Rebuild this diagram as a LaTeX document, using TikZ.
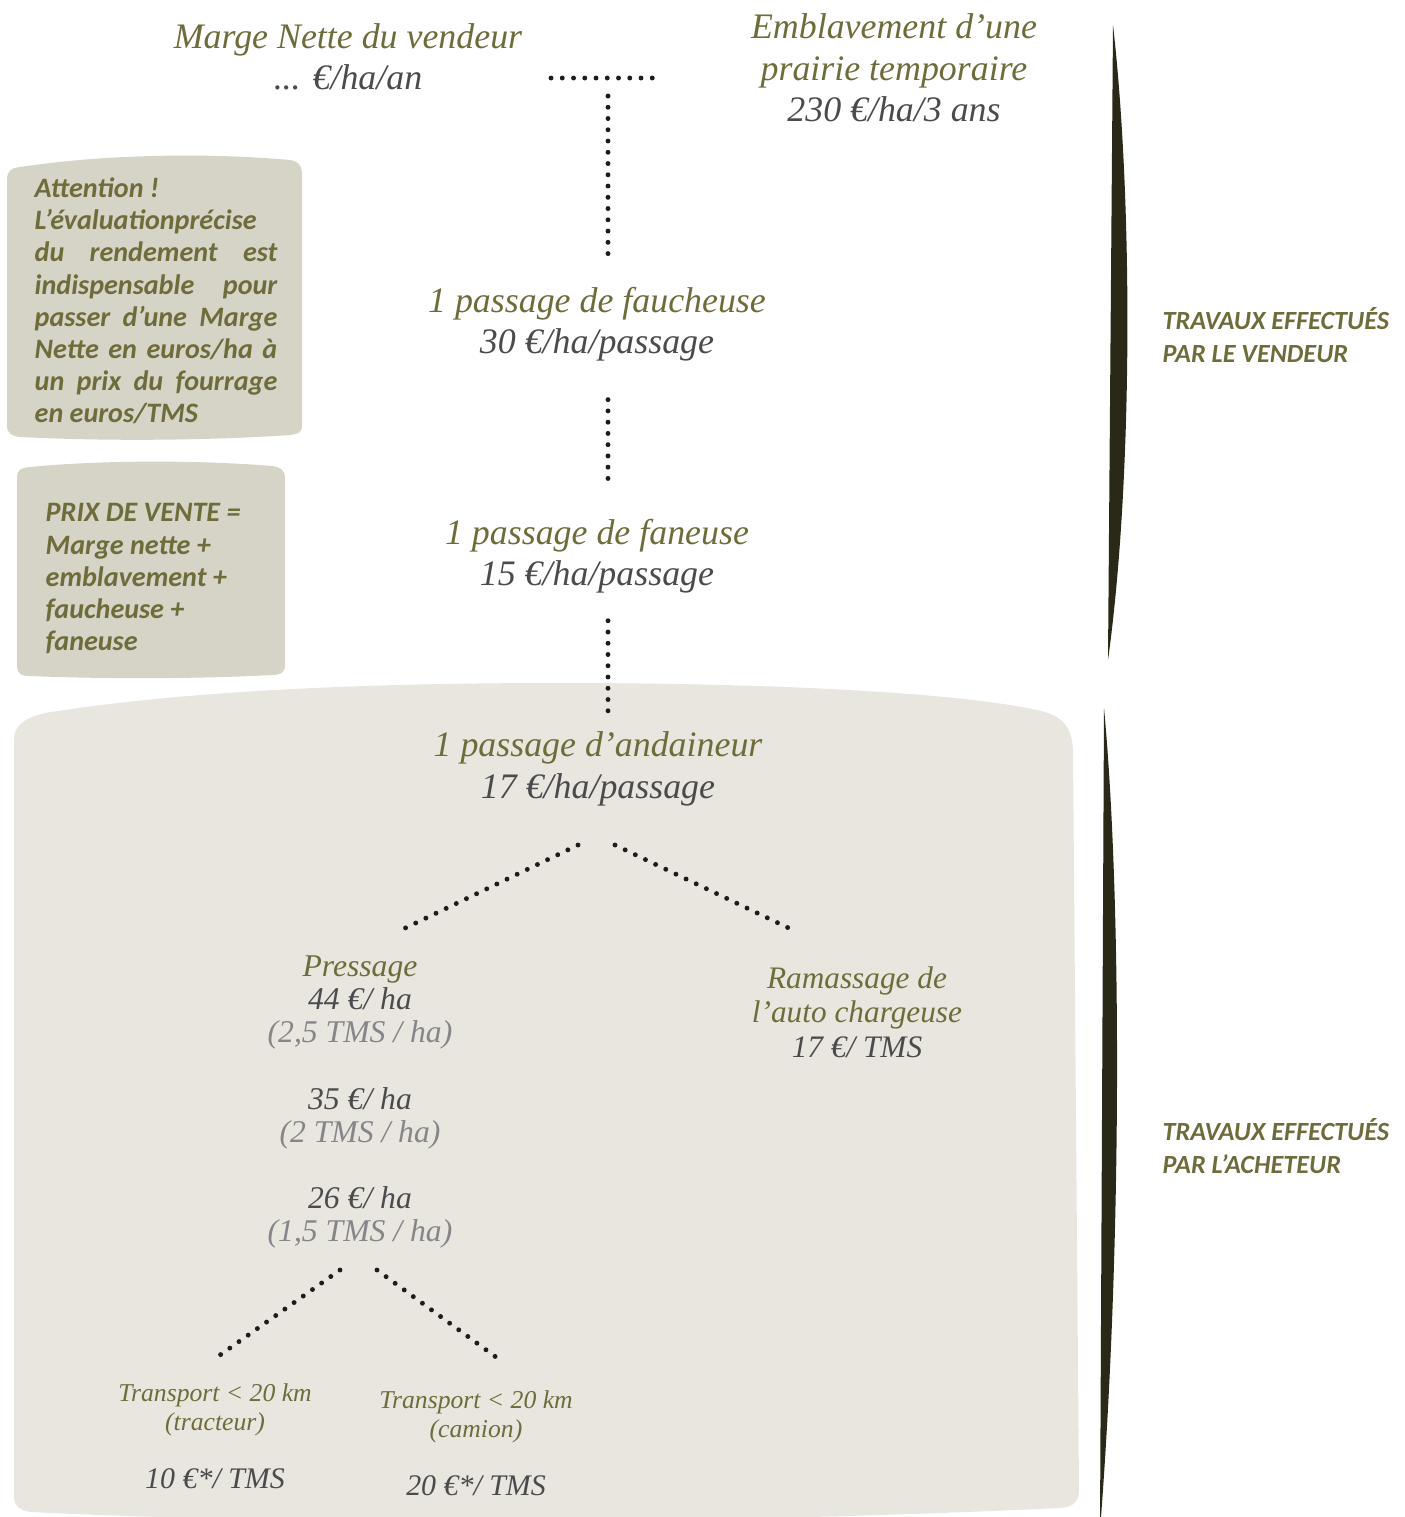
\documentclass[tikz,border=0pt]{standalone}
\usepackage{fontspec}
\setmainfont{Liberation Serif}
\newfontfamily\notefont{Carlito}
\usepackage{tikz}
\usepackage{xcolor}
\definecolor{olivetext}{HTML}{6E6C3A}
\definecolor{pricegray}{HTML}{4B4B4E}
\definecolor{tmsgray}{HTML}{85858A}
\definecolor{notefill}{HTML}{D5D4C7}
\definecolor{zonefill}{HTML}{E8E6DE}
\definecolor{bracketcol}{HTML}{2A2817}
\definecolor{dotcol}{HTML}{1C1C1C}

\begin{document}
\begin{tikzpicture}[x=0.01cm, y=-0.01cm,
    title/.style={align=center, text=olivetext, font=\fontsize{10.2}{11.8}\selectfont\itshape},
    small/.style={align=center, text=olivetext, font=\fontsize{9}{9.4}\selectfont\itshape},
    tiny/.style={align=center, text=olivetext, font=\fontsize{7.3}{8.2}\selectfont\itshape},
    note/.style={inner sep=0pt, anchor=north west, text=olivetext, font=\notefont\bfseries\itshape\fontsize{8}{9.16}\selectfont},
    side/.style={inner sep=0pt, anchor=west, align=left, text=olivetext, font=\notefont\bfseries\itshape\fontsize{7.45}{9.4}\selectfont},
    dots/.style={dotcol, line width=1.4pt, line cap=round, dash pattern=on 0pt off 3.2pt}
]
    \useasboundingbox (0,0) rectangle (1405,1517);

    % zone of the buyer
    \fill[zonefill] (14,740) .. controls (14,725) and (25,718) .. (45,713) .. controls (200,688) and (400,683) .. (560,683)
        .. controls (800,683) and (980,695) .. (1045,712) .. controls (1065,718) and (1072,730) .. (1073,750)
        -- (1079,1490) .. controls (1079,1503) and (1072,1507) .. (1060,1508)
        .. controls (700,1525) and (300,1525) .. (30,1512) .. controls (18,1510) and (14,1505) .. (14,1495) -- cycle;

    % side notes
    \fill[notefill] (7,180) .. controls (7,170) and (12,168) .. (20,167) .. controls (100,155) and (200,152) .. (290,160)
        .. controls (298,161) and (302,165) .. (302,175) -- (302,425) .. controls (302,433) and (298,434) .. (290,435)
        .. controls (200,441) and (100,441) .. (20,437) .. controls (12,436) and (7,434) .. (7,425) -- cycle;
    \fill[notefill] (17,478) .. controls (17,470) and (20,468) .. (30,467) .. controls (100,460) and (200,460) .. (272,466)
        .. controls (280,467) and (285,470) .. (285,478) -- (285,665) .. controls (285,673) and (280,675) .. (272,675)
        .. controls (200,679) and (100,679) .. (30,676) .. controls (20,676) and (17,673) .. (17,665) -- cycle;

    \node[note, text width=69pt, align=justify] (attention) at (34,177)
        {Attention !\\ L’évaluationprécise\\ du rendement est\linebreak indispensable pour\linebreak
         passer d’une Marge\linebreak Nette en euros/ha à\linebreak un prix du fourrage\linebreak en euros/TMS};
    \node[note, align=left] (prixvente) at (45,503)
        {PRIX DE VENTE =\\Marge nette +\\emblavement +\\faucheuse +\\faneuse};

    % brackets
    \fill[bracketcol] (1113,25) .. controls (1133,200) and (1133,480) .. (1108,660) -- cycle;
    \fill[bracketcol] (1104,708) .. controls (1122,900) and (1122,1250) .. (1100,1530) -- cycle;
    \node[side] (vendeur) at (1162,335) {TRAVAUX EFFECTUÉS\\PAR LE VENDEUR};
    \node[side] (acheteur) at (1162,1146) {TRAVAUX EFFECTUÉS\\PAR L’ACHETEUR};

    % seller's work
    \node[title] (marge) at (348,57) {Marge Nette du vendeur\\\textcolor{pricegray}{... €/ha/an}};
    \node[title] (embl) at (894,68) {Emblavement d’une\\prairie temporaire\\\textcolor{pricegray}{230 €/ha/3 ans}};
    \node[title] (fauch) at (597,324) {1 passage de faucheuse\\\textcolor{pricegray}{30 €/ha/passage}};
    \node[title] (fan) at (597,556) {1 passage de faneuse\\\textcolor{pricegray}{15 €/ha/passage}};
    \node[title] (andain) at (598,769) {1 passage d’andaineur\\\textcolor{pricegray}{17 €/ha/passage}};

    % buyer's work
    \node[small] (press) at (360,1102) {Pressage\\\textcolor{pricegray}{44 €/ ha}\\\textcolor{tmsgray}{(2,5 TMS / ha)}\\[9.4pt]
        \textcolor{pricegray}{35 €/ ha}\\\textcolor{tmsgray}{(2 TMS / ha)}\\[9.4pt]
        \textcolor{pricegray}{26 €/ ha}\\\textcolor{tmsgray}{(1,5 TMS / ha)}};
    \node[small, font=\fontsize{8.9}{9.8}\selectfont\itshape] (ramas) at (857,1012)
        {Ramassage de\\l’auto chargeuse\\\textcolor{pricegray}{17 €/ TMS}};
    \node[tiny] (tracteur) at (215,1436) {Transport < 20 km\\(tracteur)\\[8.2pt]{\fontsize{8.5}{8.5}\selectfont\color{pricegray}10 €*/ TMS}};
    \node[tiny] (camion) at (476,1443) {Transport < 20 km\\(camion)\\[8.2pt]{\fontsize{8.5}{8.5}\selectfont\color{pricegray}20 €*/ TMS}};

    % dotted links
    \coordinate (hl) at (551,78);
    \coordinate (hr) at (655,78);
    \coordinate (vtop) at (608,96);
    \coordinate (andL) at (578,845);
    \coordinate (andR) at (615,845);
    \coordinate (pressT) at (397,932);
    \coordinate (ramasT) at (797,932);
    \coordinate (pressL) at (340,1270);
    \coordinate (pressR) at (377,1270);
    \coordinate (tracT) at (213,1360);
    \coordinate (camT) at (500,1360);
    \draw[dots] (hl) -- (hr);
    \draw[dots, shorten >=3pt] (vtop) -- (fauch.north -| vtop);
    \draw[dots, shorten <=7.4pt, shorten >=5pt] (fauch.south -| vtop) -- (fan.north -| vtop);
    \draw[dots, shorten <=4.3pt, shorten >=2pt] (fan.south -| vtop) -- (andain.north -| vtop);
    \draw[dots] (andL) -- (pressT);
    \draw[dots] (andR) -- (ramasT);
    \draw[dots] (pressL) -- (tracT);
    \draw[dots] (pressR) -- (camT);
\end{tikzpicture}
\end{document}
